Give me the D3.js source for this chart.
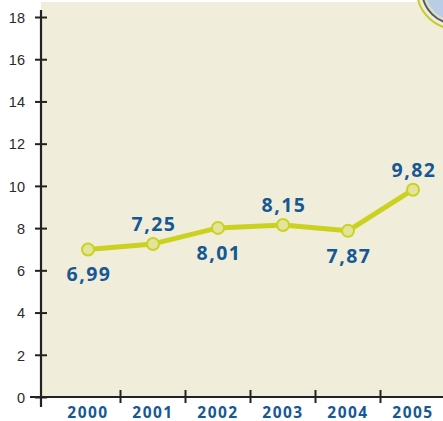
<!DOCTYPE html>
<html>
<head>
<meta charset="utf-8">
<script src="https://cdn.jsdelivr.net/npm/d3@7"></script>
<style>
  html, body { margin: 0; padding: 0; background: #fff; }
  svg { display: block; }
</style>
</head>
<body>
<svg id="chart" width="443" height="421"></svg>
<script>
// Yearly values and their label placement
const years = ["2000", "2001", "2002", "2003", "2004", "2005"];
const values = [6.99, 7.25, 8.01, 8.15, 7.87, 9.82];
const labelSide = ["below", "above", "below", "above", "below", "above"];
const yTicks = [0, 2, 4, 6, 8, 10, 12, 14, 16, 18];

const svg = d3.select("#chart");
const W = 443, H = 421;
const axisX = 41, axisY = 397;

const x = d3.scaleBand().domain(years).range([55.5, 445.5]).padding(0);
const y = d3.scaleLinear().domain([0, 18]).range([axisY, 17]);

const fmt = v => d3.format(".2f")(v).replace(".", ",");

// plot panel
svg.append("rect")
  .attr("x", axisX).attr("y", 2)
  .attr("width", W - axisX).attr("height", axisY - 2)
  .attr("fill", "#f1eddb");

// decorative emblem in the corner
const emblem = svg.append("g").attr("transform", "translate(456,-10)");
emblem.append("circle").attr("r", 39).attr("fill", "#f1eddb")
  .attr("stroke", "#c4cc2a").attr("stroke-width", 2);
emblem.append("circle").attr("r", 34).attr("fill", "#b9cde6")
  .attr("stroke", "#555").attr("stroke-width", 1.8);
emblem.append("circle").attr("r", 31.5).attr("fill", "none")
  .attr("stroke", "#e9e2b8").attr("stroke-width", 1.5);

// y axis
const yAxis = d3.axisLeft(y).tickValues(yTicks).tickSize(6).tickPadding(10)
  .tickFormat(d3.format("d"));
const gy = svg.append("g").attr("transform", `translate(${axisX},0)`).call(yAxis);
gy.select(".domain").remove();
gy.selectAll(".tick line").attr("x1", -6).attr("x2", 6)
  .attr("stroke", "#222").attr("stroke-width", 2);
gy.selectAll(".tick text")
  .attr("font-family", "'Liberation Sans', Arial, sans-serif")
  .attr("font-size", 14.5).attr("fill", "#2a2a2a").attr("dy", "0.36em");
svg.append("line")
  .attr("x1", axisX).attr("x2", axisX).attr("y1", 10).attr("y2", 407)
  .attr("stroke", "#222").attr("stroke-width", 2.2);

// x axis
const xAxis = d3.axisBottom(x).tickSize(0).tickPadding(10);
const gx = svg.append("g").attr("transform", `translate(0,${axisY})`).call(xAxis);
gx.select(".domain").remove();
gx.selectAll(".tick text")
  .attr("font-family", "'Open Sans', sans-serif").attr("font-weight", 700)
  .attr("font-size", 15.5).attr("letter-spacing", "1.5px").attr("fill", "#165894");
svg.append("line")
  .attr("x1", 30).attr("x2", W).attr("y1", axisY).attr("y2", axisY)
  .attr("stroke", "#222").attr("stroke-width", 2.2);
// separators between the year bands
svg.append("g").selectAll("line")
  .data(years.slice(1))
  .join("line")
  .attr("x1", d => x(d)).attr("x2", d => x(d))
  .attr("y1", axisY - 7).attr("y2", axisY + 6)
  .attr("stroke", "#222").attr("stroke-width", 2);

// series line
const cx = d => x(d) + x.bandwidth() / 2;
const data = years.map((yr, i) => ({ yr, v: values[i], side: labelSide[i] }));

svg.append("path")
  .datum(data)
  .attr("fill", "none")
  .attr("stroke", "#cad21f")
  .attr("stroke-width", 5)
  .attr("stroke-linejoin", "round")
  .attr("d", d3.line().x(d => cx(d.yr)).y(d => y(d.v)));

svg.append("g").selectAll("circle")
  .data(data)
  .join("circle")
  .attr("cx", d => cx(d.yr)).attr("cy", d => y(d.v))
  .attr("r", 6)
  .attr("fill", "#e3e49b")
  .attr("stroke", "#cad21f").attr("stroke-width", 2);

// value labels
svg.append("g").selectAll("text")
  .data(data)
  .join("text")
  .attr("x", d => cx(d.yr) + 1)
  .attr("y", d => y(d.v) + (d.side === "above" ? -13 : 32))
  .attr("text-anchor", "middle")
  .attr("font-family", "'Open Sans', sans-serif")
  .attr("font-weight", 700)
  .attr("font-size", 19.5)
  .attr("letter-spacing", "1.5px")
  .attr("fill", "#165894")
  .text(d => fmt(d.v));
</script>
</body>
</html>
